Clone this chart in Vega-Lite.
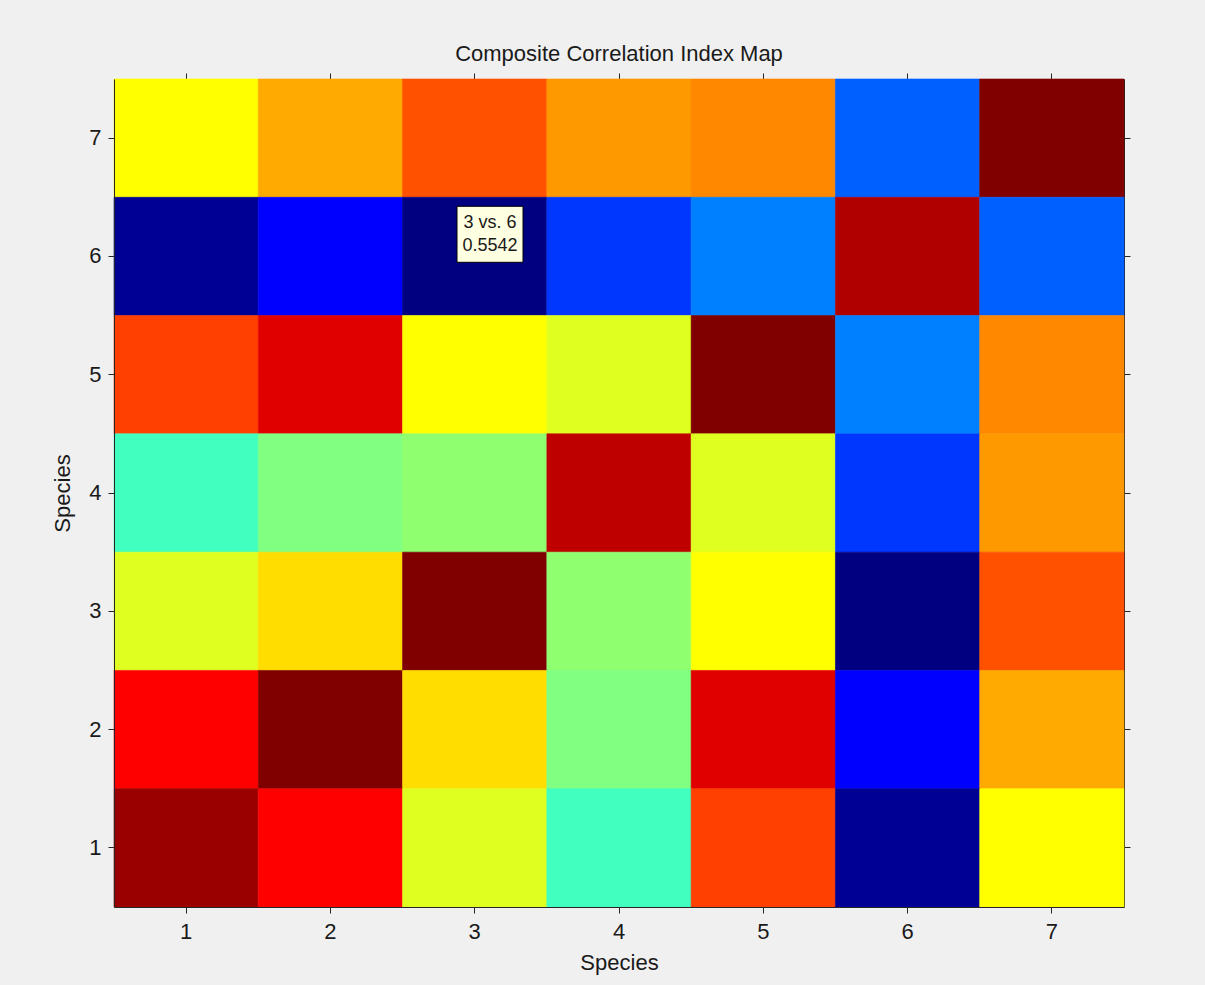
{
  "$schema": "https://vega.github.io/schema/vega-lite/v6.json",
  "width": 1010,
  "height": 828,
  "autosize": {"type": "none"},
  "padding": {"left": 114, "top": 79, "right": 81, "bottom": 78},
  "background": "#f0f0f0",
  "title": {"text": "Composite Correlation Index Map", "font": "Liberation Sans", "fontSize": 22, "fontWeight": "normal", "color": "#1a1a1a", "offset": 7},
  "config": {
    "view": {"stroke": null},
    "axis": {
      "labelFont": "Liberation Sans", "labelFontSize": 22, "labelColor": "#1a1a1a",
      "titleFont": "Liberation Sans", "titleFontSize": 22, "titleFontWeight": "normal", "titleColor": "#1a1a1a",
      "domainColor": "#262626", "tickColor": "#262626", "tickSize": 6, "grid": false, "labelAngle": 0
    }
  },
  "datasets": {
    "cells": [
      {"col": 1, "row": 7, "v": 0.8328}, {"col": 2, "row": 7, "v": 0.8698}, {"col": 3, "row": 7, "v": 0.909}, {"col": 4, "row": 7, "v": 0.8774}, {"col": 5, "row": 7, "v": 0.885}, {"col": 6, "row": 7, "v": 0.6518}, {"col": 7, "row": 7, "v": 1.0},
      {"col": 1, "row": 6, "v": 0.5631}, {"col": 2, "row": 6, "v": 0.6099}, {"col": 3, "row": 6, "v": 0.5542}, {"col": 4, "row": 6, "v": 0.634}, {"col": 5, "row": 6, "v": 0.6657}, {"col": 6, "row": 6, "v": 0.9788}, {"col": 7, "row": 6, "v": 0.6518},
      {"col": 1, "row": 5, "v": 0.9164}, {"col": 2, "row": 5, "v": 0.9579}, {"col": 3, "row": 5, "v": 0.8328}, {"col": 4, "row": 5, "v": 0.819}, {"col": 5, "row": 5, "v": 1.0}, {"col": 6, "row": 5, "v": 0.6657}, {"col": 7, "row": 5, "v": 0.885},
      {"col": 1, "row": 4, "v": 0.7492}, {"col": 2, "row": 4, "v": 0.7771}, {"col": 3, "row": 4, "v": 0.7842}, {"col": 4, "row": 4, "v": 0.9727}, {"col": 5, "row": 4, "v": 0.819}, {"col": 6, "row": 4, "v": 0.634}, {"col": 7, "row": 4, "v": 0.8774},
      {"col": 1, "row": 3, "v": 0.819}, {"col": 2, "row": 3, "v": 0.8475}, {"col": 3, "row": 3, "v": 1.0}, {"col": 4, "row": 3, "v": 0.7842}, {"col": 5, "row": 3, "v": 0.8328}, {"col": 6, "row": 3, "v": 0.5542}, {"col": 7, "row": 3, "v": 0.909},
      {"col": 1, "row": 2, "v": 0.9443}, {"col": 2, "row": 2, "v": 1.0}, {"col": 3, "row": 2, "v": 0.8475}, {"col": 4, "row": 2, "v": 0.7771}, {"col": 5, "row": 2, "v": 0.9579}, {"col": 6, "row": 2, "v": 0.6099}, {"col": 7, "row": 2, "v": 0.8698},
      {"col": 1, "row": 1, "v": 0.9884}, {"col": 2, "row": 1, "v": 0.9443}, {"col": 3, "row": 1, "v": 0.819}, {"col": 4, "row": 1, "v": 0.7492}, {"col": 5, "row": 1, "v": 0.9164}, {"col": 6, "row": 1, "v": 0.5631}, {"col": 7, "row": 1, "v": 0.8328}
    ],
    "tip": [{"col": 3, "row": 6, "label": "3 vs. 6\n0.5542"}]
  },
  "layer": [
    {
      "data": {"name": "cells"},
      "mark": {"type": "rect", "strokeWidth": 0.6},
      "encoding": {
        "x": {"field": "col", "type": "ordinal", "scale": {"paddingInner": 0, "paddingOuter": 0}, "axis": {"title": "Species", "labelPadding": 8, "titlePadding": 10}},
        "y": {"field": "row", "type": "ordinal", "sort": "descending", "scale": {"paddingInner": 0, "paddingOuter": 0}, "axis": {"title": "Species", "labelPadding": 7, "titlePadding": 14}},
        "color": {
          "field": "v", "type": "quantitative", "legend": null,
          "scale": {"type": "linear", "domain": [0.5542, 0.6099, 0.7214, 0.8328, 0.9443, 1.0], "range": ["#000080", "#0000ff", "#00ffff", "#ffff00", "#ff0000", "#800000"], "interpolate": "rgb"}
        },
        "stroke": {
          "field": "v", "type": "quantitative", "legend": null,
          "scale": {"type": "linear", "domain": [0.5542, 0.6099, 0.7214, 0.8328, 0.9443, 1.0], "range": ["#000080", "#0000ff", "#00ffff", "#ffff00", "#ff0000", "#800000"], "interpolate": "rgb"}
        }
      }
    },
    {
      "data": {"name": "tip"},
      "mark": {"type": "point", "shape": "M-1,-0.848L1,-0.848L1,0.848L-1,0.848Z", "size": 4356, "filled": true, "fill": "#ffffe1", "stroke": "#000000", "strokeWidth": 1, "opacity": 1},
      "encoding": {
        "x": {"field": "col", "type": "ordinal", "bandPosition": 0.606, "axis": {"orient": "top", "labels": false, "title": null}},
        "y": {"field": "row", "type": "ordinal", "sort": "descending", "bandPosition": 0.313, "axis": {"orient": "right", "labels": false, "title": null}}
      }
    },
    {
      "data": {"name": "tip"},
      "mark": {"type": "text", "font": "Liberation Sans", "fontSize": 18, "lineBreak": "\n", "lineHeight": 23, "align": "center", "baseline": "middle", "dy": -11, "color": "#1a1a1a"},
      "encoding": {
        "x": {"field": "col", "type": "ordinal", "bandPosition": 0.606, "axis": null},
        "y": {"field": "row", "type": "ordinal", "sort": "descending", "bandPosition": 0.313, "axis": null},
        "text": {"field": "label"}
      }
    }
  ],
  "resolve": {"axis": {"x": "independent", "y": "independent"}}
}
